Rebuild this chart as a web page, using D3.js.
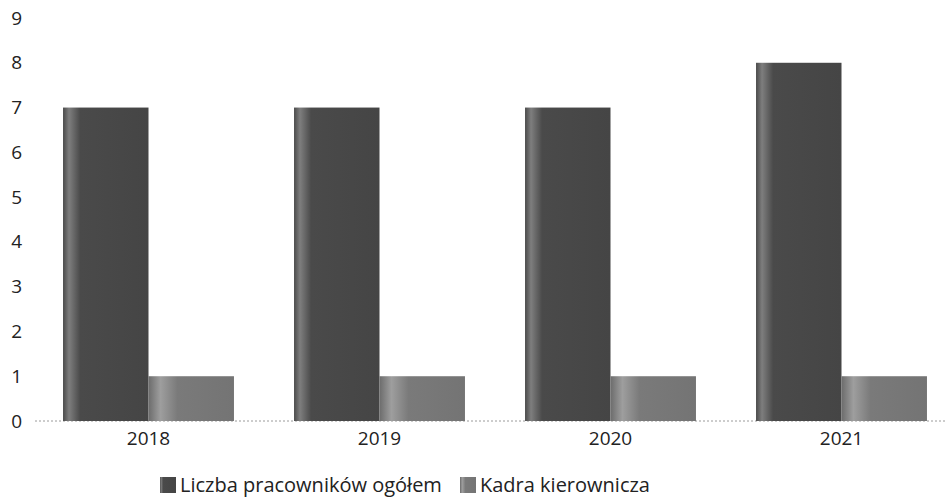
<!DOCTYPE html>
<html><head><meta charset="utf-8">
<script src="https://cdn.jsdelivr.net/npm/d3@7"></script>
<style>body{margin:0;background:#fff}svg{display:block;font-family:"Open Sans","Noto Sans",sans-serif}</style>
</head><body><svg id="c" width="945" height="499"></svg>
<script>
const categories = ["2018","2019","2020","2021"];
const seriesNames = ["Liczba pracowników ogółem","Kadra kierownicza"];
const totalEmployees = [7,7,7,8];
const management = [1,1,1,1];
const yTicks = [0,1,2,3,4,5,6,7,8,9];

const svg = d3.select("#c");
const defs = svg.append("defs");
function grad(id, stops){
  const g = defs.append("linearGradient").attr("id",id).attr("x1","0").attr("x2","1").attr("y1","0").attr("y2","0");
  stops.forEach(s=>g.append("stop").attr("offset",s[0]).attr("stop-color",s[1]));
}
grad("g0",[["0%","#4a4a4a"],["7%","#7e7e7e"],["20%","#4a4a4a"],["100%","#454545"]]);
grad("g1",[["0%","#6c6c6c"],["14%","#9e9e9e"],["34%","#7a7a7a"],["100%","#747474"]]);

const y = d3.scaleLinear().domain([0,9]).range([421,18]);
const x0 = d3.scaleBand().domain(categories).range([33,957]).paddingInner(0.26).paddingOuter(0.13);
const x1 = d3.scaleBand().domain([0,1]).range([0,x0.bandwidth()]);

// baseline dotted
svg.append("line").attr("x1",35).attr("x2",945).attr("y1",y(0)).attr("y2",y(0))
  .attr("stroke","#9a9a9a").attr("stroke-width",1).attr("stroke-dasharray","2,2");

const data = categories.map((c,i)=>({c, v:[totalEmployees[i], management[i]]}));
const g = svg.append("g");
data.forEach(d=>{
  d.v.forEach((v,j)=>{
    g.append("rect").attr("x",x0(d.c)+x1(j)).attr("width",x1.bandwidth())
      .attr("y",y(v)).attr("height",y(0)-y(v)).attr("fill",`url(#g${j})`);
  });
});

// y labels
const yAxis = d3.axisLeft(y).tickValues(yTicks).tickSize(0).tickPadding(0);
const ya = svg.append("g").attr("transform","translate(22,0)").call(yAxis);
ya.select(".domain").remove();
ya.selectAll("text").attr("font-size",19).attr("fill","#222").attr("font-family","Open Sans, Noto Sans, sans-serif");

// x labels
const xAxis = d3.axisBottom(x0).tickSize(0).tickPadding(0);
const xa = svg.append("g").attr("transform",`translate(0,${y(0)+10})`).call(xAxis);
xa.select(".domain").remove();
xa.selectAll("text").attr("font-size",19).attr("fill","#222").attr("font-family","Open Sans, Noto Sans, sans-serif");

// legend
const legX = [160, 460];
seriesNames.forEach((n,i)=>{
  const lg = svg.append("g").attr("transform",`translate(${legX[i]},477)`);
  lg.append("rect").attr("width",16).attr("height",16).attr("fill",`url(#g${i})`);
  lg.append("text").attr("x",20).attr("y",15).attr("font-size",20).attr("fill","#222").text(n);
});
</script></body></html>
